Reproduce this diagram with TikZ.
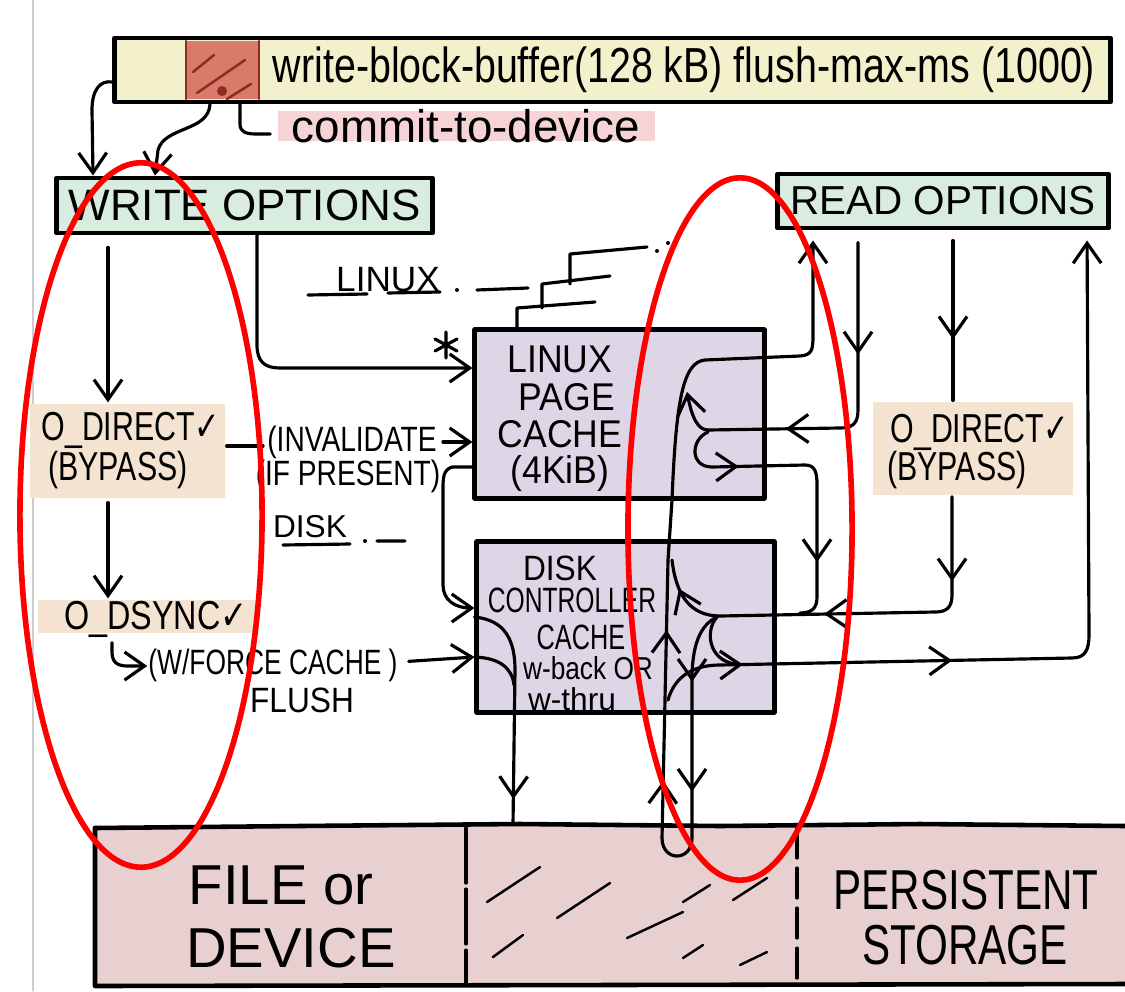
\documentclass[tikz,border=0pt]{standalone}
\usepackage{fontspec}
\setmainfont{Liberation Sans}
\newfontfamily\symfont{DejaVu Sans}
\usetikzlibrary{arrows.meta,decorations.markings}

\definecolor{baryellow}{HTML}{F3F1CC}
\definecolor{cellred}{HTML}{D87B6B}
\definecolor{celldark}{HTML}{8E2A1E}
\definecolor{commitpink}{HTML}{F6D3D5}
\definecolor{optgreen}{HTML}{D8ECDF}
\definecolor{opttan}{HTML}{F3E3D0}
\definecolor{cachepurple}{HTML}{DED5E6}
\definecolor{storepink}{HTML}{E8CFD0}
\definecolor{ringred}{HTML}{FF0000}

\newcommand{\chk}{{\symfont ✓}}

\tikzset{
  box/.style={draw, line width=1.4pt, inner sep=0pt},
  txt/.style={inner sep=0pt, align=center},
  tanbg/.style={fill=opttan, inner sep=0pt},
  midarr/.style={postaction={decorate, decoration={markings,
      mark=at position #1 with {\arrow{Straight Barb[length=2mm,width=2.8mm]}}}}},
}

\begin{document}
\begin{tikzpicture}[x=0.01cm, y=-0.01cm,
    >={Straight Barb[length=2mm,width=2.8mm]},
    every path/.style={line width=0.9pt, line cap=round, line join=round}]
  \useasboundingbox (0,0) rectangle (1125,991);
  \draw[gray!40, line width=0.4pt] (33,0) -- (33,991);

  % buffer bar
  \node[box, fill=baryellow, minimum width=9.95cm, minimum height=0.64cm] (buf) at (612.5,70) {};
  \fill[cellred] (186,41) rectangle (259,99);
  \draw[celldark, line width=0.8pt] (186,41) -- (186,99) (259,41) -- (259,99);
  \draw[celldark, line width=0.7pt] (193,72) -- (214,55) (197,93) -- (245,60) (227,99) -- (251,84);
  \fill[celldark] (222,91) circle (5);
  \node[txt, font=\fontsize{14}{16}\selectfont, xscale=0.8] (wbb) at (684,70) {write-block-buffer(128 kB) flush-max-ms (1000)};

  \fill[commitpink] (278,111) rectangle (655,141);
  \node[txt, font=\fontsize{13}{15}\selectfont] (cmt) at (466,126) {commit-to-device};
  \draw[shorten >=2mm] (buf.south -| 240,0) -- (240,124) .. controls (240,132) and (246,134) .. (256,134) -- (cmt.west |- 0,134);

  % option boxes
  \node[box, fill=optgreen, minimum width=3.75cm, minimum height=0.55cm, font=\fontsize{12.5}{14}\selectfont] (wopt) at (244.5,205.5) {WRITE OPTIONS};
  \node[box, fill=optgreen, minimum width=3.3cm, minimum height=0.54cm, font=\fontsize{11.5}{13}\selectfont] (ropt) at (943,201) {READ OPTIONS};

  \draw[->] (buf.west |- 0,82) .. controls (100,80) and (92,90) .. (92,110) -- (wopt.north -| 93,0);
  \draw[->] (buf.south -| 210,0) .. controls (208,132) and (165,126) .. (158,150) -- (wopt.north -| 155,0);

  % write side flags
  \node[tanbg, minimum width=1.95cm, minimum height=0.94cm] (odl) at (127.5,451) {};
  \node[txt, font=\fontsize{11.5}{13}\selectfont, xscale=0.75] (odl1) at (131,430) {O\_DIRECT\chk};
  \node[txt, font=\fontsize{11.5}{13}\selectfont, xscale=0.75] (odl2) at (118,470) {(BYPASS)};
  \node[tanbg, minimum width=2.2cm, minimum height=0.33cm] (ods) at (148,616.5) {};
  \node[txt, font=\fontsize{11.5}{13}\selectfont, xscale=0.8] (ods1) at (156,619) {O\_DSYNC\chk};

  % read side flag
  \node[tanbg, minimum width=2cm, minimum height=0.93cm] (odr) at (973,448.5) {};
  \node[txt, font=\fontsize{11.5}{13}\selectfont, xscale=0.75] (odr1) at (980,432) {O\_DIRECT\chk};
  \node[txt, font=\fontsize{11.5}{13}\selectfont, xscale=0.75] (odr2) at (957,470) {(BYPASS)};

  \draw[->, shorten <=1.2mm] (wopt.south -| 108,0) -- (odl.north -| 108,0);
  \draw[->, shorten <=0.3mm] (odl.south -| 108,0) -- (ods.north -| 108,0);

  \node[txt, font=\fontsize{10}{12}\selectfont, xscale=0.75] (force) at (273,665) {(W/FORCE CACHE )};
  \node[txt, font=\fontsize{10}{12}\selectfont, xscale=0.9] (flush) at (302,700) {FLUSH};
  \draw[->, shorten <=0.8mm] (ods.south -| 112,0) -- (112,652) .. controls (112,663) and (118,666) .. (128,666) -- (force.west |- 0,666);

  \node[txt, font=\fontsize{10}{12}\selectfont, xscale=0.8] (inv) at (352,442) {(INVALIDATE};
  \node[txt, font=\fontsize{10}{12}\selectfont, xscale=0.8] (ifp) at (348,476) {(IF PRESENT)};
  \draw[shorten >=0.3mm] (odl.east |- 0,446) -- (inv.west |- 0,446);

  % caches
  \node[box, fill=cachepurple, minimum width=2.89cm, minimum height=1.68cm] (pc) at (619.5,414) {};
  \node[txt, font=\fontsize{11}{13}\selectfont, xscale=0.92] (pc1) at (560,359) {LINUX};
  \node[txt, font=\fontsize{11}{13}\selectfont, xscale=0.92] (pc2) at (567,397) {PAGE};
  \node[txt, font=\fontsize{11}{13}\selectfont, xscale=0.92] (pc3) at (560,434) {CACHE};
  \node[txt, font=\fontsize{11}{13}\selectfont, xscale=0.92] (pc4) at (560,473) {(4KiB)};

  \node[box, fill=cachepurple, minimum width=2.97cm, minimum height=1.7cm] (dc) at (625.5,627) {};
  \node[txt, font=\fontsize{10}{12}\selectfont, xscale=0.9] (dc1) at (560,568) {DISK};
  \node[txt, font=\fontsize{10}{12}\selectfont, xscale=0.7] (dc2) at (572,600) {CONTROLLER};
  \node[txt, font=\fontsize{10}{12}\selectfont, xscale=0.72] (dc3) at (581,637) {CACHE};
  \node[txt, font=\fontsize{9}{11}\selectfont, xscale=0.83] (dc4) at (588,668) {w-back OR};
  \node[txt, font=\fontsize{9}{11}\selectfont] (dc5) at (572,699) {w-thru};

  % layer marks
  \node[txt, font=\fontsize{10}{12}\selectfont] (lnx) at (388,280) {LINUX};
  \draw (308,295) -- (367,294) (388,293) -- (440,292) (477,290) -- (528,288);
  \fill (457,290) circle (2) (657,251) circle (2) (668,243) circle (2);
  \draw (517,330) -- (517,308) -- (595,302) (542,308) -- (542,284) -- (610,276) (570,284) -- (570,254) -- (647,247);
  \node[txt, font=\fontsize{9}{11}\selectfont] (dsk) at (310,527) {DISK};
  \draw (283,545) -- (350,544) (377,541) -- (405,541);
  \fill (365,541) circle (2);
  \draw (446,332) -- (446,358) (435,339) -- (457,351) (435,351) -- (457,339);

  % storage
  \node[fill=storepink, inner sep=0pt, minimum width=10.3cm, minimum height=1.59cm] (store) at (610,905.5) {};
  \draw[line width=1.3pt] (95,828) -- (300,826) -- (520,824) -- (720,826) -- (920,824) -- (1125,826);
  \draw[line width=1.3pt] (95,828) -- (95,986) -- (1125,984);
  \draw[dash pattern=on 0.55cm off 0.06cm] (466,828) -- (466,984);
  \draw[dash pattern=on 0.3cm off 0.1cm] (797,828) -- (797,984);
  \draw[line width=0.7pt] (487,902) -- (540,867) (557,918) -- (610,883) (683,902) -- (710,885)
    (733,900) -- (767,878) (627,938) -- (683,912) (493,957) -- (523,935) (683,958) -- (703,945) (740,965) -- (767,952);
  \node[txt, font=\fontsize{16}{18}\selectfont] (st1) at (281,885) {FILE or};
  \node[txt, font=\fontsize{16}{18}\selectfont] (st2) at (291,948) {DEVICE};
  \node[txt, font=\fontsize{16}{18}\selectfont, xscale=0.75] (st3) at (966,890) {PERSISTENT};
  \node[txt, font=\fontsize{16}{18}\selectfont, xscale=0.75] (st4) at (965,945) {STORAGE};

  % write paths
  \draw[->] (wopt.south -| 257,0) -- (257,345) .. controls (257,362) and (265,368) .. (280,368) -- (pc.west |- 0,368);
  \draw[->, shorten <=0.5mm] (inv.east) -- (pc.west |- inv.east);
  \draw[->] (pc.west |- 0,467) -- (452,467) .. controls (443,470) and (443,478) .. (443,490) -- (443,585) .. controls (443,600) and (455,608) .. (dc.west |- 0,608);
  \draw[->, shorten <=1mm] (force.east |- 0,662) -- (dc.west |- 0,657);
  \draw[midarr=0.89] (dc.west |- 0,617) .. controls (505,620) and (515,640) .. (515,670) -- (store.north -| 513,0);
  \draw (dc.west |- 0,657) .. controls (500,658) and (512,668) .. (514,685);

  % read paths
  \draw[->, shorten >=1mm, midarr=0.08, midarr=0.29] (662,838) -- (668,560) -- (672,500) .. controls (676,400) and (683,362) .. (705,360) -- (800,356) .. controls (812,355) and (813,350) .. (813,335) -- (ropt.south -| 813,0);
  \draw[midarr=0.26, midarr=0.65] (717,617) .. controls (700,625) and (692,645) .. (692,680) -- (692,838) .. controls (692,862) and (662,862) .. (662,838);
  \draw[->, shorten <=1.2mm, midarr=0.32, midarr=0.68] (ropt.south -| 858,0) -- (858,410) .. controls (858,424) and (852,428) .. (840,428) -- (708,430) .. controls (698,430) and (692,418) .. (687,392);
  \draw[midarr=0.25, midarr=0.8] (708,432) .. controls (690,440) and (690,467) .. (712,467) -- (805,465) .. controls (815,465) and (817,472) .. (817,485) -- (817,597) .. controls (817,608) and (812,613) .. (800,613);
  \draw[shorten <=1mm, midarr=0.64] (ropt.south -| 953,0) -- (odr.north -| 953,0);
  \draw[midarr=0.2, midarr=0.56, midarr=0.93] (odr.south -| 952,0) -- (952,595) .. controls (952,608) and (946,612) .. (935,612) -- (720,616) .. controls (690,616) and (676,595) .. (672,560);
  \draw (717,617) .. controls (705,630) and (708,660) .. (735,664);
  \draw[->, shorten >=1mm, midarr=0.106, midarr=0.35] (668,700) .. controls (675,675) and (695,665) .. (720,665) -- (1072,658) .. controls (1085,658) and (1089,650) .. (1089,635) -- (ropt.south -| 1087,0);

  % red rings
  \draw[ringred, line width=1.6pt] (141,515) ellipse [x radius=1.21cm, y radius=3.52cm];
  \draw[ringred, line width=1.6pt] (740,529) ellipse [x radius=1.12cm, y radius=3.51cm];
\end{tikzpicture}
\end{document}
